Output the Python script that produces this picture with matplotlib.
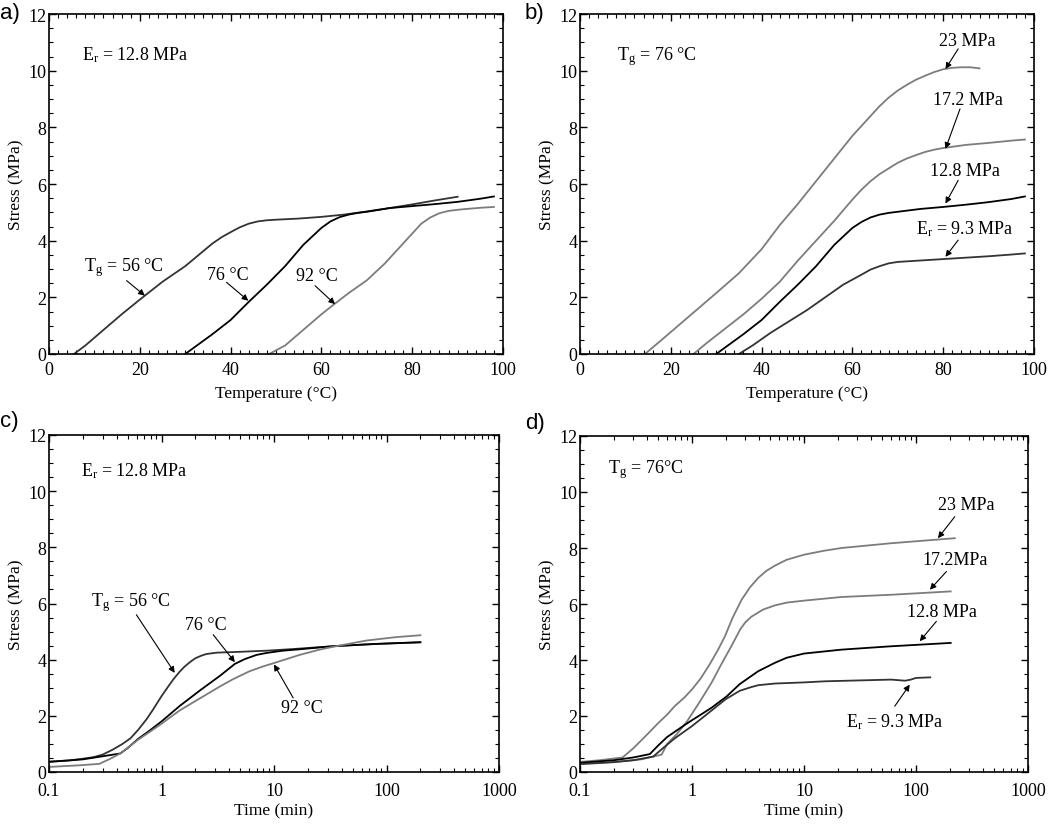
import matplotlib
matplotlib.use("Agg")
import matplotlib.pyplot as plt
from matplotlib.ticker import MultipleLocator, LogLocator, NullFormatter, FixedLocator, FixedFormatter

plt.rcParams['font.family'] = ['Liberation Serif', 'DejaVu Serif']
plt.rcParams['mathtext.fontset'] = 'custom'
plt.rcParams['mathtext.rm'] = 'Liberation Serif'
plt.rcParams['mathtext.it'] = 'Liberation Serif:italic'

# ---------------- data ----------------
# panel a: stress vs temperature, Er = 12.8 MPa
a56_T = [5.5, 8, 12, 16, 20, 25, 30, 33, 36, 38, 40, 42, 44, 46, 48, 50, 55, 60, 65, 70, 75, 80, 85, 90]
a56_S = [0, 0.3, 0.85, 1.4, 1.92, 2.55, 3.1, 3.5, 3.9, 4.12, 4.3, 4.47, 4.6, 4.68, 4.72, 4.74, 4.78, 4.84, 4.92, 5.03, 5.15, 5.28, 5.42, 5.55]
a76_T = [30, 33, 36, 40, 44, 48, 52, 56, 60, 62, 64, 66, 68, 70, 75, 80, 85, 90, 95, 98]
a76_S = [0, 0.35, 0.7, 1.2, 1.84, 2.45, 3.1, 3.85, 4.45, 4.68, 4.83, 4.92, 4.98, 5.02, 5.15, 5.22, 5.29, 5.37, 5.48, 5.56]
a92_T = [48.5, 52, 56, 60, 63, 66, 70, 74, 78, 80, 82, 84, 86, 88, 90, 92, 95, 98]
a92_S = [0, 0.3, 0.85, 1.4, 1.78, 2.15, 2.6, 3.2, 3.9, 4.25, 4.6, 4.82, 4.97, 5.05, 5.09, 5.12, 5.16, 5.19]

# panel b: stress vs temperature, Tg = 76 C
b23_T = [14.3, 18, 22, 26, 30, 35, 40, 44, 48, 52, 56, 60, 64, 66, 68, 70, 72, 74, 76, 78, 80, 82, 84, 86, 88]
b23_S = [0, 0.5, 1.05, 1.6, 2.15, 2.85, 3.7, 4.55, 5.3, 6.1, 6.9, 7.7, 8.4, 8.75, 9.05, 9.3, 9.5, 9.68, 9.82, 9.95, 10.05, 10.1, 10.12, 10.12, 10.08]
b17_T = [25, 28, 32, 36, 40, 44, 48, 52, 56, 60, 62, 64, 66, 68, 70, 72, 74, 76, 78, 80, 85, 90, 95, 98]
b17_S = [0, 0.4, 0.9, 1.4, 1.95, 2.55, 3.3, 4.0, 4.7, 5.45, 5.8, 6.1, 6.35, 6.55, 6.75, 6.9, 7.02, 7.13, 7.21, 7.27, 7.38, 7.45, 7.53, 7.57]
b12_T = [30, 33, 36, 40, 44, 48, 52, 56, 60, 62, 64, 66, 68, 70, 75, 80, 85, 90, 95, 98]
b12_S = [0, 0.35, 0.7, 1.2, 1.84, 2.45, 3.1, 3.85, 4.45, 4.66, 4.82, 4.92, 4.98, 5.02, 5.12, 5.19, 5.27, 5.36, 5.47, 5.56]
b9_T = [35, 38, 42, 46, 50, 54, 58, 62, 64, 66, 68, 70, 72, 75, 80, 85, 90, 95, 98]
b9_S = [0, 0.3, 0.75, 1.15, 1.55, 2.0, 2.45, 2.8, 2.98, 3.1, 3.2, 3.25, 3.27, 3.3, 3.35, 3.4, 3.45, 3.51, 3.55]

# panel c: stress vs time, Er = 12.8 MPa
c56_t = [0.1, 0.15, 0.19, 0.25, 0.3, 0.37, 0.45, 0.53, 0.62, 0.74, 0.85, 1.0, 1.15, 1.28, 1.45, 1.6, 1.8, 2.0, 2.25, 2.5, 3.1, 5, 8.6, 15, 33.6, 80, 200]
c56_S = [0.37, 0.41, 0.46, 0.53, 0.62, 0.8, 1.0, 1.2, 1.5, 1.89, 2.25, 2.7, 3.05, 3.31, 3.57, 3.75, 3.92, 4.05, 4.14, 4.2, 4.25, 4.28, 4.32, 4.38, 4.48, 4.56, 4.62]
c76_t = [0.1, 0.2, 0.3, 0.43, 0.5, 0.62, 0.8, 1.0, 1.46, 2.19, 3.32, 4.49, 5.5, 7, 8.6, 12, 17, 33.6, 80, 200]
c76_S = [0.36, 0.45, 0.56, 0.66, 0.85, 1.18, 1.5, 1.8, 2.36, 2.9, 3.43, 3.85, 4.02, 4.17, 4.24, 4.32, 4.37, 4.48, 4.56, 4.62]
c92_t = [0.1, 0.19, 0.28, 0.35, 0.43, 0.62, 0.8, 1.0, 1.46, 2.19, 3.32, 4.3, 6, 8, 10, 16.9, 25, 33.6, 66, 120, 200]
c92_S = [0.18, 0.24, 0.29, 0.47, 0.66, 1.15, 1.45, 1.72, 2.2, 2.62, 3.05, 3.3, 3.58, 3.76, 3.88, 4.17, 4.35, 4.46, 4.68, 4.8, 4.87]

# panel d: stress vs time, Tg = 76 C
d23_t = [0.1, 0.15, 0.24, 0.3, 0.4, 0.5, 0.6, 0.7, 0.85, 1.0, 1.2, 1.44, 1.7, 1.97, 2.3, 2.77, 3.3, 3.9, 4.6, 5.5, 7, 10, 15, 21.6, 60, 222]
d23_S = [0.36, 0.42, 0.52, 0.85, 1.35, 1.75, 2.05, 2.35, 2.65, 2.95, 3.35, 3.85, 4.35, 4.85, 5.5, 6.15, 6.6, 6.93, 7.18, 7.37, 7.58, 7.76, 7.9, 8.0, 8.17, 8.35]
d17_t = [0.1, 0.2, 0.35, 0.535, 0.6, 0.73, 0.9, 1.17, 1.5, 1.8, 2.25, 2.7, 3.0, 3.4, 4.3, 5.5, 7, 10, 21.6, 60, 204]
d17_S = [0.3, 0.36, 0.45, 0.62, 1.0, 1.35, 1.8, 2.5, 3.2, 3.8, 4.5, 5.1, 5.35, 5.55, 5.8, 5.95, 6.05, 6.12, 6.25, 6.33, 6.45]
d12_t = [0.1, 0.2, 0.3, 0.42, 0.5, 0.6, 0.84, 1.0, 1.2, 1.5, 2.04, 2.67, 3.9, 5.5, 7, 10, 21.6, 60, 204]
d12_S = [0.33, 0.42, 0.52, 0.64, 0.95, 1.25, 1.65, 1.85, 2.05, 2.3, 2.7, 3.14, 3.6, 3.9, 4.08, 4.23, 4.37, 4.49, 4.61]
d9_t = [0.1, 0.2, 0.3, 0.45, 0.55, 0.7, 1.0, 1.5, 2.0, 2.67, 3.3, 3.9, 5.5, 10, 15.5, 60, 80, 90, 100, 134]
d9_S = [0.28, 0.35, 0.42, 0.55, 0.85, 1.2, 1.64, 2.2, 2.6, 2.9, 3.02, 3.1, 3.16, 3.2, 3.24, 3.3, 3.26, 3.3, 3.36, 3.38]

DARK = '#333333'
BLACK = '#000000'
GRAY = '#7c7c7c'

fig = plt.figure(figsize=(10.5, 8.28), dpi=100)
W, H = 1050.0, 828.0

def mkax(l, r, t, b):
    return fig.add_axes([l / W, 1 - b / H, (r - l) / W, (b - t) / H])

axA = mkax(49, 503, 15, 355)
axB = mkax(580, 1034, 15, 355)
axC = mkax(49, 499, 436, 773)
axD = mkax(580, 1028, 437, 773)

LW = 1.3
FS_TXT = 13

def style(ax, log=False):
    ax.set_ylim(0, 12)
    ax.yaxis.set_major_locator(MultipleLocator(2))
    ax.yaxis.set_minor_locator(MultipleLocator(0.5))
    if log:
        ax.set_xscale('log')
        ax.set_xlim(0.1, 1000)
        ax.xaxis.set_major_locator(FixedLocator([0.1, 1, 10, 100, 1000]))
        ax.xaxis.set_major_formatter(FixedFormatter(['0.1', '1', '10', '100', '1000']))
        ax.xaxis.set_minor_locator(LogLocator(base=10, subs=range(2, 10)))
        ax.xaxis.set_minor_formatter(NullFormatter())
        ax.set_xlabel('Time (min)', fontsize=12.5, labelpad=3)
        ax.tick_params(axis='x', pad=7)
    else:
        ax.set_xlim(0, 100)
        ax.xaxis.set_major_locator(MultipleLocator(20))
        ax.xaxis.set_minor_locator(MultipleLocator(2))
        ax.set_xlabel('Temperature (\u00b0C)', fontsize=12.5, labelpad=5)
        ax.tick_params(axis='x', pad=5)
    ax.tick_params(which='both', direction='in', top=True, right=True, labelsize=13)
    ax.tick_params(which='major', length=5, width=1.0)
    ax.tick_params(which='minor', length=2.8, width=0.8)
    ax.tick_params(axis='y', pad=2)
    for s in ax.spines.values():
        s.set_linewidth(1.2)
    ax.set_ylabel('Stress (MPa)', fontsize=12.5, labelpad=3)

def arrow(ax, tip, tail):
    ax.annotate('', xy=tip, xytext=tail,
                arrowprops=dict(arrowstyle='-|>', lw=0.8, color='black',
                                mutation_scale=9, shrinkA=0, shrinkB=0))

# ---- panel a
axA.plot(a56_T, a56_S, color=DARK, lw=LW)
axA.plot(a76_T, a76_S, color=BLACK, lw=LW)
axA.plot(a92_T, a92_S, color=GRAY, lw=LW)
style(axA)
axA.text(7.2, 10.6, r'E$_\mathrm{r}$ = 12.8 MPa', fontsize=FS_TXT, va='center', ha='left')
axA.text(16.5, 3.1, r'T$_\mathrm{g}$ = 56 °C', fontsize=FS_TXT, va='center', ha='center')
arrow(axA, (21.1, 2.06), (17.1, 2.59))
axA.text(39.4, 2.82, '76 °C', fontsize=FS_TXT, va='center', ha='center')
arrow(axA, (43.9, 1.88), (39.1, 2.53))
axA.text(59.0, 2.76, '92 °C', fontsize=FS_TXT, va='center', ha='center')
arrow(axA, (63.0, 1.76), (58.6, 2.41))

# ---- panel b
axB.plot(b23_T, b23_S, color=GRAY, lw=LW)
axB.plot(b17_T, b17_S, color=GRAY, lw=LW)
axB.plot(b12_T, b12_S, color=BLACK, lw=LW)
axB.plot(b9_T, b9_S, color=DARK, lw=LW)
style(axB)
axB.text(8.1, 10.53, r'T$_\mathrm{g}$ = 76 °C', fontsize=FS_TXT, va='center', ha='left')
axB.text(85.2, 11.06, '23 MPa', fontsize=FS_TXT, va='center', ha='center')
arrow(axB, (80.5, 10.06), (83.3, 10.77))
axB.text(85.5, 9.0, '17.2 MPa', fontsize=FS_TXT, va='center', ha='center')
arrow(axB, (80.5, 7.24), (83.7, 8.65))
axB.text(84.8, 6.48, '12.8 MPa', fontsize=FS_TXT, va='center', ha='center')
arrow(axB, (80.5, 5.31), (83.3, 6.13))
axB.text(84.8, 4.43, r'E$_\mathrm{r}$ = 9.3 MPa', fontsize=FS_TXT, va='center', ha='center')
arrow(axB, (80.5, 3.43), (83.3, 4.02))

# ---- panel c
axC.plot(c56_t, c56_S, color=DARK, lw=LW)
axC.plot(c76_t, c76_S, color=BLACK, lw=LW)
axC.plot(c92_t, c92_S, color=GRAY, lw=LW)
style(axC, log=True)
axC.text(0.194, 10.76, r'E$_\mathrm{r}$ = 12.8 MPa', fontsize=FS_TXT, va='center', ha='left')
axC.text(0.529, 6.08, r'T$_\mathrm{g}$ = 56 °C', fontsize=FS_TXT, va='center', ha='center')
arrow(axC, (1.31, 3.53), (0.598, 5.6))
axC.text(2.5, 5.25, '76 °C', fontsize=FS_TXT, va='center', ha='center')
arrow(axC, (4.49, 3.91), (2.88, 4.89))
axC.text(17.6, 2.29, '92 °C', fontsize=FS_TXT, va='center', ha='center')
arrow(axC, (10.0, 3.83), (14.8, 2.64))

# ---- panel d
axD.plot(d23_t, d23_S, color=GRAY, lw=LW)
axD.plot(d17_t, d17_S, color=GRAY, lw=LW)
axD.plot(d12_t, d12_S, color=BLACK, lw=LW)
axD.plot(d9_t, d9_S, color=DARK, lw=LW)
style(axD, log=True)
axD.text(0.179, 10.85, r'T$_\mathrm{g}$ = 76°C', fontsize=FS_TXT, va='center', ha='left')
axD.text(282, 9.54, '23 MPa', fontsize=FS_TXT, va='center', ha='center')
arrow(axD, (157, 8.35), (222, 9.12))
axD.text(222, 7.58, '17.2MPa', fontsize=FS_TXT, va='center', ha='center')
arrow(axD, (133, 6.51), (187, 7.16))
axD.text(169, 5.74, '12.8 MPa', fontsize=FS_TXT, va='center', ha='center')
arrow(axD, (108, 4.67), (152, 5.38))
axD.text(64.6, 1.82, r'E$_\mathrm{r}$ = 9.3 MPa', fontsize=FS_TXT, va='center', ha='center')
arrow(axD, (88, 3.12), (64.6, 2.35))

# panel labels
for lbl, x, y in [('a)', 0, 14), ('b)', 525, 14), ('c)', 0, 422), ('d)', 525, 424)]:
    fig.text(x / W, 1 - y / H, lbl, fontsize=16, family='Liberation Sans', ha='left', va='center')

fig.savefig('out.png', dpi=100)
